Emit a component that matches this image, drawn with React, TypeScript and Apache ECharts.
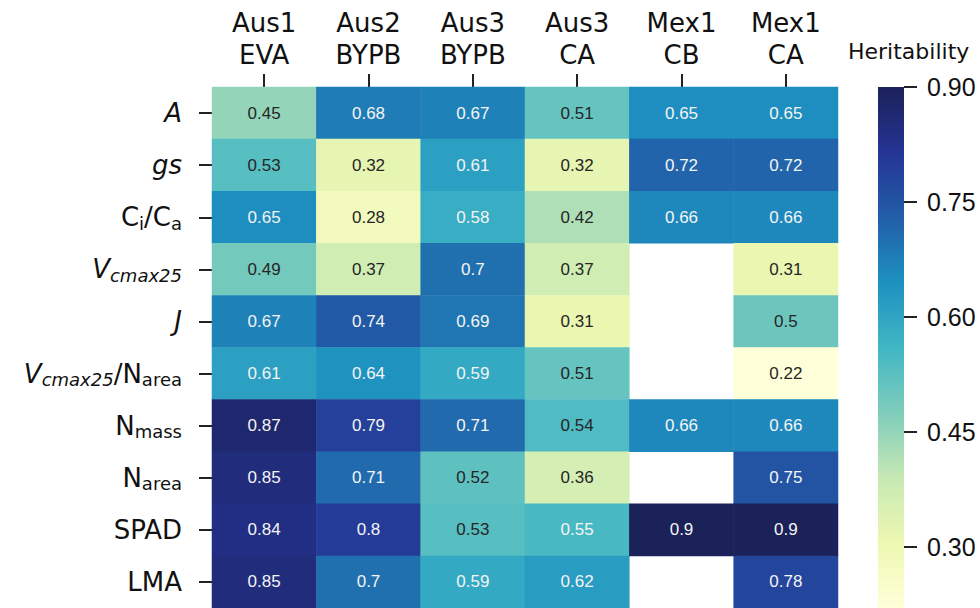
import React, { useEffect, useRef } from "react";
import * as echarts from "echarts";

const columns = ["Aus1\nEVA", "Aus2\nBYPB", "Aus3\nBYPB", "Aus3\nCA", "Mex1\nCB", "Mex1\nCA"];
const traits = ["A", "gs", "Ci/Ca", "Vcmax25", "J", "Vcmax25/Narea", "Nmass", "Narea", "SPAD", "LMA"];

const aus1EVA = [0.45, 0.53, 0.65, 0.49, 0.67, 0.61, 0.87, 0.85, 0.84, 0.85];
const aus2BYPB = [0.68, 0.32, 0.28, 0.37, 0.74, 0.64, 0.79, 0.71, 0.8, 0.7];
const aus3BYPB = [0.67, 0.61, 0.58, 0.7, 0.69, 0.59, 0.71, 0.52, 0.53, 0.59];
const aus3CA = [0.51, 0.32, 0.42, 0.37, 0.31, 0.51, 0.54, 0.36, 0.55, 0.62];
const mex1CB = [0.65, 0.72, 0.66, null, null, null, 0.66, null, 0.9, null];
const mex1CA = [0.65, 0.72, 0.66, 0.31, 0.5, 0.22, 0.66, 0.75, 0.9, 0.78];

const columnValues = [aus1EVA, aus2BYPB, aus3BYPB, aus3CA, mex1CB, mex1CA];

const colorMin = 0.22;
const colorMax = 0.9;
const colorbarTicks = [0.3, 0.45, 0.6, 0.75, 0.9];
const colorbarTitle = "Heritability";

const YlGnBu = ["#ffffd9", "#edf8b1", "#c7e9b4", "#7fcdbb", "#41b6c4", "#1d91c0", "#225ea8", "#253494", "#1b2159"];

const traitLabels: Record<string, string> = {
  A: "{i|A}",
  gs: "{i|gs}",
  "Ci/Ca": "{n|C}{s|i}{n|/C}{s|a}",
  Vcmax25: "{i|V}{is|cmax25}",
  J: "{i|J}",
  "Vcmax25/Narea": "{i|V}{is|cmax25}{n|/N}{s|area}",
  Nmass: "{n|N}{s|mass}",
  Narea: "{n|N}{s|area}",
  SPAD: "{n|SPAD}",
  LMA: "{n|LMA}",
};

export default function App() {
  const ref = useRef<HTMLDivElement>(null);
  useEffect(() => {
    if (!ref.current) return;
    const chart = echarts.init(ref.current, null, { renderer: "svg" });
    const data: any[] = [];
    columnValues.forEach((vals, j) => {
      vals.forEach((v, i) => {
        if (v === null || v === undefined) return;
        data.push({
          value: [j, i, v],
          label: { color: v >= 0.55 ? "#f4f4f4" : "#262626" },
        });
      });
    });
    const labelFont = "DejaVu Sans";
    const main = { fontFamily: labelFont, fontSize: 26, color: "#111", lineHeight: 30 };
    const sub = { fontFamily: labelFont, fontSize: 18, color: "#111", lineHeight: 14, verticalAlign: "bottom" };
    const stops = YlGnBu.map((c, k) => ({ offset: 1 - k / (YlGnBu.length - 1), color: c })).reverse();

    chart.setOption({
      animation: false,
      backgroundColor: "#ffffff",
      grid: [
        { left: 212, top: 87, width: 626, height: 521, containLabel: false },
        { left: 878, top: 87, width: 26, height: 521, containLabel: false },
      ],
      xAxis: [
        {
          type: "category",
          gridIndex: 0,
          data: columns,
          position: "top",
          axisLine: { show: false },
          axisTick: { show: true, alignWithLabel: true, length: 13, lineStyle: { color: "#222", width: 2 } },
          axisLabel: { margin: 16, fontFamily: labelFont, fontSize: 26, color: "#111", lineHeight: 32 },
          splitLine: { show: false },
        },
        {
          type: "category",
          gridIndex: 1,
          data: ["bar"],
          show: false,
        },
      ],
      yAxis: [
        {
          type: "category",
          gridIndex: 0,
          data: traits,
          inverse: true,
          axisLine: { show: false },
          axisTick: { show: true, alignWithLabel: true, length: 13, lineStyle: { color: "#222", width: 2 } },
          axisLabel: {
            margin: 30,
            formatter: (v: string) => traitLabels[v] || v,
            rich: {
              n: main,
              i: { ...main, fontStyle: "italic" },
              s: sub,
              is: { ...sub, fontStyle: "italic" },
            },
          },
          splitLine: { show: false },
        },
        {
          type: "value",
          gridIndex: 1,
          min: colorMin,
          max: colorMax,
          position: "right",
          axisLine: { show: false },
          splitLine: { show: false },
          axisTick: { show: true, customValues: colorbarTicks, length: 13, lineStyle: { color: "#222", width: 2 } },
          axisLabel: {
            customValues: colorbarTicks,
            formatter: (v: number) => v.toFixed(2),
            fontFamily: "Liberation Sans",
            fontSize: 25,
            color: "#111",
            margin: 23,
          },
        },
      ],
      visualMap: {
        show: false,
        min: colorMin,
        max: colorMax,
        seriesIndex: 0,
        inRange: { color: YlGnBu },
      },
      graphic: [
        {
          type: "text",
          left: 848,
          top: 40,
          style: { text: colorbarTitle, fontFamily: labelFont, fontSize: 22, fill: "#111" },
        },
      ],
      series: [
        {
          type: "heatmap",
          xAxisIndex: 0,
          yAxisIndex: 0,
          data,
          label: {
            show: true,
            formatter: (p: any) => String(p.value[2]),
            fontFamily: "Liberation Sans",
            fontSize: 17,
          },
          emphasis: { disabled: true },
        },
        {
          type: "custom",
          xAxisIndex: 1,
          yAxisIndex: 1,
          data: [[0, colorMin, colorMax]],
          renderItem: (params: any, api: any) => {
            const top = api.coord([0, api.value(2)]);
            const bottom = api.coord([0, api.value(1)]);
            const cs = params.coordSys;
            return {
              type: "rect",
              shape: { x: cs.x, y: top[1], width: cs.width, height: bottom[1] - top[1] },
              style: { fill: new echarts.graphic.LinearGradient(0, 0, 0, 1, stops) },
            };
          },
        },
      ],
    });
    return () => chart.dispose();
  }, []);
  return (
    <div
      ref={ref}
      style={{ position: "fixed", left: 0, top: 0, width: 980, height: 608, background: "#fff" }}
    />
  );
}
